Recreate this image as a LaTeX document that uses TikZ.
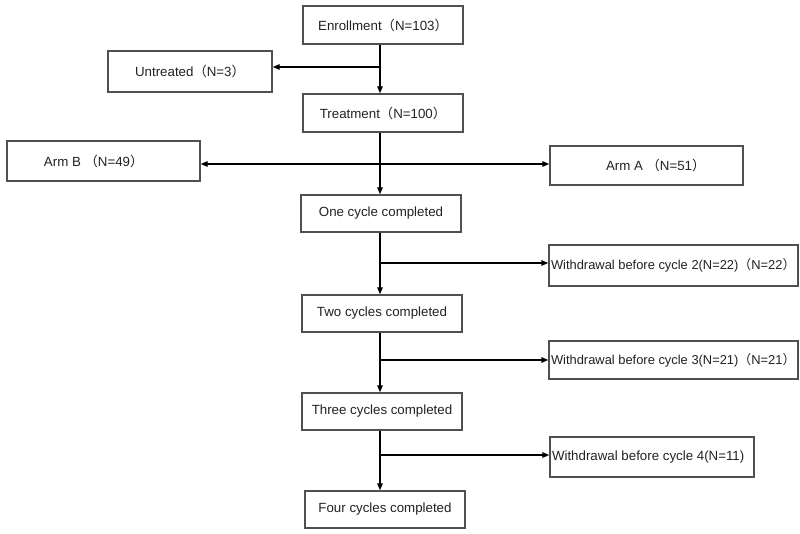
\documentclass[tikz,border=0pt]{standalone}
\usepackage{fontspec}
\setmainfont{Liberation Sans}
\newfontfamily\cjkfont{Noto Sans CJK SC}
\usetikzlibrary{arrows.meta}
\newcommand{\fwl}{{\cjkfont （}}
\newcommand{\fwr}{{\cjkfont ）}}
\definecolor{boxgray}{HTML}{505050}
\definecolor{textgray}{HTML}{222222}
\begin{document}
\begin{tikzpicture}[x=1pt,y=-1pt,
  >={Triangle[length=7pt,width=5.5pt]},
  box/.style={draw=boxgray, line width=1.4pt, rectangle, inner sep=0pt,
    font=\fontsize{13.3}{15}\selectfont, text=textgray},
  smalltext/.style={font=\fontsize{12.9}{15}\selectfont},
  flow/.style={line width=1.4pt, draw=black, ->},
  biflow/.style={line width=1.4pt, draw=black, <->}]
\useasboundingbox[fill=white] (0,0) rectangle (800,534);

% main column
\node[box, minimum width=160pt, minimum height=38pt] (enroll) at (383,25) {Enrollment\fwl N=103\fwr};
\node[box, minimum width=164pt, minimum height=41pt] (untreated) at (190,71.5) {Untreated\fwl N=3\fwr};
\node[box, minimum width=160pt, minimum height=38pt] (treat) at (383,113) {Treatment\fwl N=100\fwr};
\node[box, minimum width=193pt, minimum height=40pt, inner xsep=2pt] (armB) at (103.5,161) {\makebox[189pt][l]{\hspace{35pt}Arm B \fwl N=49\fwr}};
\node[box, minimum width=193pt, minimum height=39pt, inner xsep=2pt] (armA) at (646.5,165.5) {\makebox[189pt][l]{\hspace{54pt}Arm A \fwl N=51\fwr}};
\node[box, minimum width=160pt, minimum height=37pt] (one) at (381,213.5) {One cycle completed};
\node[box, smalltext, minimum width=249pt, minimum height=41pt, inner xsep=2pt] (w2) at (673.5,265.5) {\makebox[245pt][l]{Withdrawal before cycle 2(N=22)\fwl N=22\fwr}};
\node[box, minimum width=160pt, minimum height=37pt] (two) at (382,313.5) {Two cycles completed};
\node[box, smalltext, minimum width=249pt, minimum height=38pt, inner xsep=2pt] (w3) at (673.5,360) {\makebox[245pt][l]{Withdrawal before cycle 3(N=21)\fwl N=21\fwr}};
\node[box, minimum width=160pt, minimum height=37pt] (three) at (382,411.5) {Three cycles completed};
\node[box, minimum width=204pt, minimum height=40pt, inner xsep=2pt] (w4) at (652,457) {\makebox[200pt][l]{Withdrawal before cycle 4(N=11)}};
\node[box, minimum width=160pt, minimum height=37pt] (four) at (385,509.5) {Four cycles completed};

% trunk and junctions
\coordinate (t) at (380,0);
\coordinate (j1) at (380,67);
\coordinate (j2) at (380,164);
\coordinate (j3) at (380,263);
\coordinate (j4) at (380,360);
\coordinate (j5) at (380,455);

\draw[flow] (enroll.south -| t) -- (treat.north -| t);
\draw[flow] (j1) -- (j1 -| untreated.east);
\draw[flow] (treat.south -| t) -- (one.north -| t);
\draw[biflow] (j2 -| armB.east) -- (j2 -| armA.west);
\draw[flow] (one.south -| t) -- (two.north -| t);
\draw[flow] (j3) -- (j3 -| w2.west);
\draw[flow] (two.south -| t) -- (three.north -| t);
\draw[flow] (j4) -- (j4 -| w3.west);
\draw[flow] (three.south -| t) -- (four.north -| t);
\draw[flow] (j5) -- (j5 -| w4.west);
\end{tikzpicture}
\end{document}
